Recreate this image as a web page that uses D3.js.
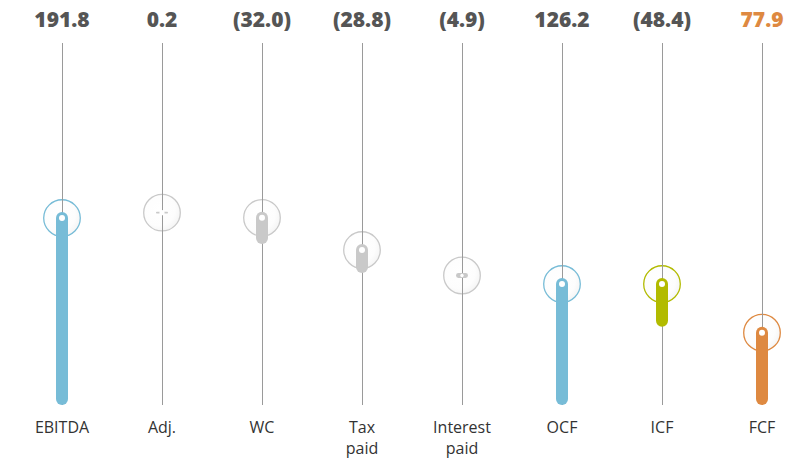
<!DOCTYPE html>
<html>
<head>
<meta charset="utf-8">
<script src="https://cdn.jsdelivr.net/npm/d3@7"></script>
<style>
  html, body { margin: 0; padding: 0; background: #fff; }
  svg { display: block; }
</style>
</head>
<body>
<svg id="chart" width="799" height="460"></svg>
<script>
// ---- data ----
const categories = ["EBITDA", "Adj.", "WC", "Tax paid", "Interest paid", "OCF", "ICF", "FCF"];
const values = [191.8, 0.2, -32.0, -28.8, -4.9, 126.2, -48.4, 77.9];
const kinds = ["total", "delta", "delta", "delta", "delta", "total", "delta", "total"];
const colorGroups = ["cash", "adj", "adj", "adj", "adj", "cash", "invest", "free"];

// ---- styles ----
const groupColors = d3.scaleOrdinal()
  .domain(["cash", "adj", "invest", "free"])
  .range(["#77bcd7", "#c9c9c9", "#b2bb00", "#de8941"]);

const svg = d3.select("#chart");

const x = d3.scalePoint().domain(categories).range([62, 762]);
const y = d3.scaleLinear().domain([0, 200]).range([405, 203.8]);

// waterfall computation
let run = 0;
const rows = categories.map((c, i) => {
  const v = values[i];
  let start, end;
  if (kinds[i] === "total") { start = 0; end = v; run = v; }
  else { start = run; end = run + v; run = end; }
  return { cat: c, value: v, top: Math.max(start, end), bottom: Math.min(start, end), group: colorGroups[i] };
});

// gradient for circles
const defs = svg.append("defs");
const grad = defs.append("radialGradient").attr("id", "cg")
  .attr("cx", "40%").attr("cy", "40%").attr("r", "65%");
grad.append("stop").attr("offset", "0%").attr("stop-color", "#ffffff");
grad.append("stop").attr("offset", "70%").attr("stop-color", "#fdfdfd");
grad.append("stop").attr("offset", "100%").attr("stop-color", "#f4f4f4");

const fmt = v => v < 0 ? "(" + d3.format(".1f")(-v) + ")" : d3.format(".1f")(v);

const g = svg.selectAll("g.col").data(rows).join("g").attr("class", "col")
  .attr("transform", d => `translate(${x(d.cat)},0)`);

// value labels
g.append("text")
  .attr("x", 0).attr("y", 27)
  .attr("text-anchor", "middle")
  .attr("font-family", "'Open Sans', sans-serif")
  .attr("font-weight", 800)
  .attr("font-size", 21)
  .attr("fill", d => d.group === "free" ? groupColors("free") : "#555555")
  .text(d => fmt(d.value));

const barH = d => Math.max(y(d.bottom) - y(d.top), 1.6);
const dotY = d => y(d.top) + Math.min(6, barH(d) / 2);

// outer circles
g.append("circle")
  .attr("cx", 0).attr("cy", dotY)
  .attr("r", 18.3)
  .attr("fill", "url(#cg)")
  .attr("stroke", d => groupColors(d.group))
  .attr("stroke-width", 1.3);

// vertical lines
g.append("line")
  .attr("x1", 0.5).attr("x2", 0.5)
  .attr("y1", 43).attr("y2", y(0))
  .attr("stroke", "#9a9a9a").attr("stroke-width", 1);

// bars
g.append("rect")
  .attr("x", -6).attr("width", 12)
  .attr("y", d => y(d.top))
  .attr("height", barH)
  .attr("rx", d => Math.min(6, barH(d) / 2))
  .attr("fill", d => groupColors(d.group));

// white dots
g.append("circle")
  .attr("cx", 0).attr("cy", dotY)
  .attr("r", d => barH(d) < 3 ? 2.6 : (barH(d) < 8 ? 1.7 : 3))
  .attr("fill", "#ffffff");

// category labels
const lbl = g.append("text")
  .attr("text-anchor", "middle")
  .attr("font-family", "'Open Sans', sans-serif")
  .attr("font-size", 16)
  .attr("fill", "#333333");
lbl.selectAll("tspan")
  .data(d => d.cat.split(" "))
  .join("tspan")
  .attr("x", 0)
  .attr("y", (t, i) => 433 + i * 21)
  .text(t => t);
</script>
</body>
</html>
